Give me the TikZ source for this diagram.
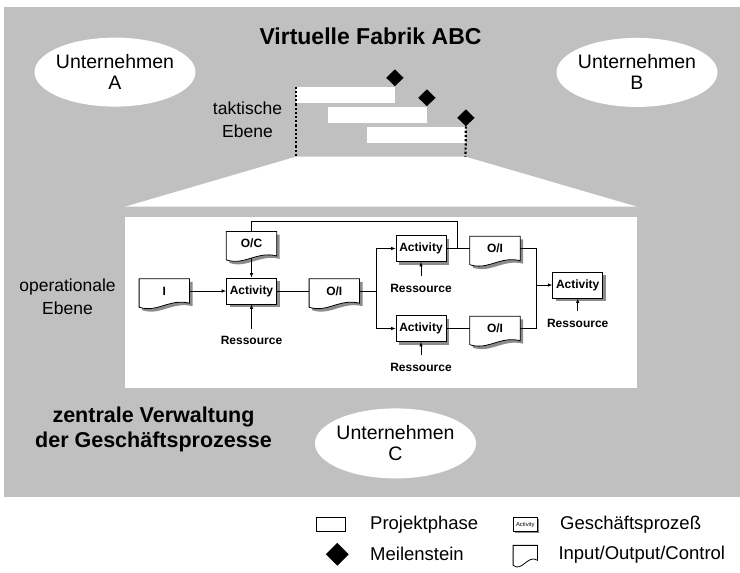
\documentclass[tikz,border=0pt]{standalone}
\usepackage{fontspec}
\setmainfont{Liberation Sans}
\usetikzlibrary{arrows.meta,calc,shapes.geometric,shadows}
\pgfdeclarelayer{back}
\pgfdeclarelayer{bg}
\pgfsetlayers{back,bg,main}
\definecolor{panelgray}{HTML}{C0C0C0}

% outline of a document symbol (flat top, wavy bottom) around node #1,
% the left edge reaching #2 below the node's bottom
\newcommand\docpath[2]{(#1.north west) -- (#1.north east) -- (#1.south east)
  .. controls ($(#1.south east)!0.4!(#1.south west)+(0,-#2*1.25)$)
  and ($(#1.south east)!0.64!(#1.south west)+(0,#2*2.5)$)
  .. ($(#1.south west)+(0,#2)$) -- cycle}

\begin{document}
\begin{tikzpicture}[x=1pt,y=-1pt,
  firmtext/.style={align=center, inner sep=0pt, font=\fontsize{19.5}{21}\selectfont},
  heading/.style={inner sep=0pt, font=\bfseries\fontsize{23}{27}\selectfont},
  boldlabel/.style={align=center, inner sep=0pt, font=\bfseries\fontsize{21.5}{25}\selectfont},
  levellabel/.style={align=center, inner sep=0pt, font=\fontsize{17.5}{22.6}\selectfont},
  phasebar/.style={fill=white, minimum width=98.5pt, minimum height=16pt, inner sep=0pt, anchor=north west},
  milestone/.style={diamond, fill=black, minimum width=17.5pt, minimum height=17pt, inner sep=0pt},
  dotline/.style={line width=2.2pt, dash pattern=on 2.2pt off 2pt},
  activity/.style={draw, fill=white, line width=0.8pt, minimum width=50pt, minimum height=26pt,
    inner sep=0pt, font=\bfseries\fontsize{12}{14}\selectfont,
    drop shadow={shadow xshift=3pt, shadow yshift=-3pt, fill=black!45, opacity=1}},
  docnode/.style={minimum width=50pt, minimum height=24pt, inner sep=0pt,
    font=\bfseries\fontsize{12}{14}\selectfont},
  docbody/.style={fill=white, draw=black, line width=0.8pt},
  docshadow/.style={fill=black!45},
  resource/.style={inner xsep=1pt, inner ysep=7.5pt, font=\bfseries\fontsize{12}{14}\selectfont},
  flow/.style={line width=0.8pt},
  flowarrow/.style={flow, -{Latex[length=4.5pt,width=3.6pt]}},
  legendtext/.style={anchor=west, inner sep=0pt, font=\fontsize{18.5}{22}\selectfont},
]
\useasboundingbox (0,0) rectangle (740,573);

% ---------- tactical level: project phases and milestones ----------
\node[phasebar] (bar1) at (296,86.5) {};
\node[phasebar] (bar2) at (328,106.5) {};
\node[phasebar] (bar3) at (367,126.5) {};
\node[milestone, anchor=south] (ms1) at (bar1.north east) {};
\node[milestone, anchor=south] (ms2) at (bar2.north east) {};
\node[milestone, anchor=south] (ms3) at (bar3.north east) {};
\coordinate (trapL) at (296,156.7);
\coordinate (trapR) at (465.5,156.7);
\draw[dotline] (bar1.north west) -- (trapL);
\draw[dotline] (ms3.south) -- (trapR);

% panel, zoom funnel and operational sheet
\begin{pgfonlayer}{back}
  \fill[panelgray] (4,7) rectangle (740,497);
  \fill[white] (trapL) -- (trapR) -- (637,206.7) -- (125,206.7) -- cycle;
  \fill[white] (125,217) rectangle (637,388);
\end{pgfonlayer}

% ---------- texts on the panel ----------
\node[heading] (title) at (370.5,36) {Virtuelle Fabrik ABC};
\node[firmtext] (ua) at (115,72.1) {Unternehmen\\A};
\node[firmtext] (ub) at (637,72.4) {Unternehmen\\B};
\node[firmtext] (uc) at (395.5,443.4) {Unternehmen\\C};
\node[levellabel] (takt) at (247.5,119.5) {taktische\\Ebene};
\node[levellabel] (oper) at (67.5,296.5) {operationale\\Ebene};
\node[boldlabel] (central) at (153.5,429.6) {zentrale Verwaltung\\der Geschäftsprozesse};

% ---------- operational level: business process ----------
\node[docnode] (i)   at (164.3,291) {I};
\node[docnode] (oc)  at (251.5,243.7) {O/C};
\node[activity] (act1) at (251.5,291) {Activity};
\node[docnode] (oi1) at (334.3,291) {O/I};
\node[activity] (act2) at (421,248.5) {Activity};
\node[docnode] (oi2) at (495,248.5) {O/I};
\node[activity] (act3) at (421,328.5) {Activity};
\node[docnode] (oi3) at (495,328.5) {O/I};
\node[activity] (act4) at (577.7,285) {Activity};

\node[resource] (res1) at (251.5,340.7) {Ressource};
\node[resource] (res2) at (421,288.3) {Ressource};
\node[resource] (res3) at (421,367.3) {Ressource};
\node[resource] (res4) at (577.7,323.3) {Ressource};

\coordinate (j1) at (376.7,291);
\coordinate (j2) at (536,285);
\coordinate (fb) at (457.7,248.5);
\coordinate (fbtop) at (457.7,221.7);

\draw[flowarrow] (i.east) -- (act1.west);
\draw[flowarrow, shorten <=2.4pt] (oc.south) -- (act1.north);
\draw[flow] (act1.east) -- (oi1.west);
\draw[flow] (oi1.east) -- (j1);
\draw[flowarrow] (j1) |- (act2.west);
\draw[flowarrow] (j1) |- (act3.west);
\draw[flow] (act2.east) -- (oi2.west);
\draw[flow] (act3.east) -- (oi3.west);
\draw[flow] (fb) -- (fbtop) -| (oc.north);
\draw[flow] (oi2.east) -| (j2);
\draw[flow] (oi3.east) -| (j2);
\draw[flowarrow] (j2) -- (act4.west);
\foreach \r/\a in {res1/act1,res2/act2,res3/act3,res4/act4}
  \draw[flowarrow] (\r.north) -- (\a.south);

% ---------- legend ----------
\node[draw, line width=0.8pt, minimum width=29pt, minimum height=14pt, inner sep=0pt] (lgproj) at (330.5,524.7) {};
\node[legendtext] (lgprojt) at (370,525) {Projektphase};
\node[draw, fill=white, line width=0.6pt, minimum width=24pt, minimum height=14pt, inner sep=0pt,
  font=\fontsize{5.8}{7}\selectfont,
  drop shadow={shadow xshift=1.2pt, shadow yshift=-1.2pt, fill=black!45, opacity=1}] (lgact) at (525.3,524.7) {Activity};
\node[legendtext] (lgactt) at (560,525) {Geschäftsprozeß};
\node[diamond, fill=black, minimum width=23pt, minimum height=23pt, inner sep=0pt] (lgms) at (337.3,554.3) {};
\node[legendtext] (lgmst) at (370,554.3) {Meilenstein};
\node[minimum width=24pt, minimum height=14.5pt, inner sep=0pt] (lgdoc) at (525.3,552.8) {};
\node[legendtext] (lgdoct) at (558.3,554.3) {Input/Output/Control};

% ---------- shapes behind the texts ----------
\begin{pgfonlayer}{bg}
  \foreach \e in {ua,ub}
    \fill[white] (\e) ellipse [x radius=80.5pt, y radius=34.5pt];
  \fill[white] (uc) ellipse [x radius=80.5pt, y radius=35pt];
  \foreach \d in {i,oc,oi1,oi2,oi3} {
    \fill[docshadow, transform canvas={shift={(3,3)}}] \docpath{\d}{4};
    \filldraw[docbody] \docpath{\d}{4};
  }
  \filldraw[docbody] \docpath{lgdoc}{5};
\end{pgfonlayer}
\end{tikzpicture}
\end{document}
